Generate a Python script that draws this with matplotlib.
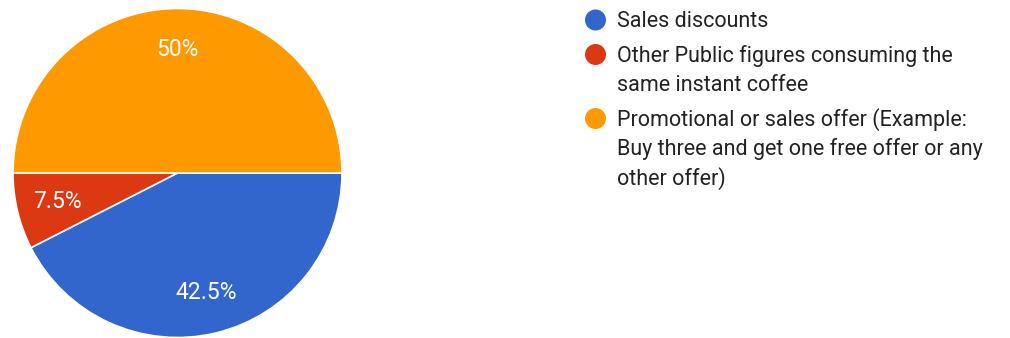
import matplotlib
matplotlib.use("Agg")
import matplotlib.pyplot as plt
from matplotlib.patches import Circle

# survey answers
labels = ["Sales discounts",
          "Other Public figures consuming the\nsame instant coffee",
          "Promotional or sales offer (Example:\nBuy three and get one free offer or any\nother offer)"]
shares = [42.5, 7.5, 50]
colors = ["#3366cc", "#dc3912", "#ff9900"]

plt.rcParams['font.family'] = ['Roboto', 'DejaVu Sans']

W, H = 1010, 338
fig = plt.figure(figsize=(W / 100, H / 100), dpi=100)

# pie area: center (177.5, 173) px from top-left, radius 164.5 px
cx, cy, r = 177.5, 173, 164.5
ax = fig.add_axes([(cx - r) / W, (H - cy - r) / H, 2 * r / W, 2 * r / H])
wedges, texts, autotexts = ax.pie(
    shares, colors=colors, startangle=0, counterclock=False,
    autopct=lambda p: f"{p:g}%", pctdistance=0.75, radius=1,
    wedgeprops=dict(edgecolor="white", linewidth=1.2))
for t in autotexts:
    t.set_color("white")
    t.set_fontsize(16.5)
ax.set_xlim(-1, 1)
ax.set_ylim(-1, 1)
ax.set_aspect("equal")
ax.axis("off")

# legend drawn by hand, circle markers and wrapped text lines
y = 21.5
line_h = 29.5
gap = 34.5
for lab, col in zip(labels, colors):
    circ = Circle((595.5 / 100, (H - y + 1.5) / 100), 10.5 / 100,
                  transform=fig.dpi_scale_trans,
                  facecolor=col, edgecolor="none")
    fig.patches.append(circ)
    lines = lab.split("\n")
    for i, ln in enumerate(lines):
        fig.text(617 / W, 1 - (y + i * line_h) / H, ln, fontsize=15.5,
                 color="#222222", va="center", ha="left")
    y += (len(lines) - 1) * line_h + gap

fig.savefig("out.png", dpi=100)
